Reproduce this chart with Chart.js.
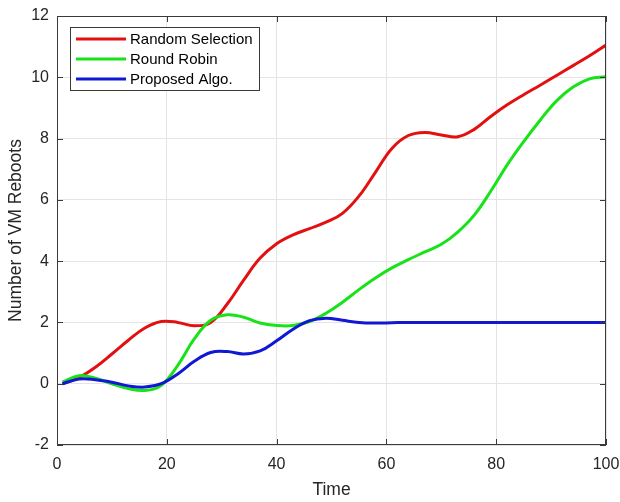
<!DOCTYPE html>
<html lang="en">
<head>
<meta charset="UTF-8">
<title>VM Reboots</title>
<script src="https://cdn.jsdelivr.net/npm/chart.js"></script>
<style>
  body { margin: 0; background: #fff; }
  canvas { display: block; }
</style>
</head>
<body>
<canvas id="myChart" width="620" height="502"></canvas>
<script>
// values
const timeX = [1, 4, 7, 10, 13, 16, 19, 22, 25, 28, 31, 34, 37, 40, 43, 46, 49, 52, 55, 58,
  61, 64, 67, 70, 73, 76, 79, 82, 85, 88, 91, 94, 97, 100];
const randomSel = [0, 0.2, 0.54, 0.97, 1.42, 1.82, 2.03, 2.0, 1.89, 2.0, 2.6, 3.38, 4.1, 4.57, 4.86, 5.06, 5.27, 5.56,
  6.12, 6.9, 7.68, 8.1, 8.2, 8.12, 8.06, 8.3, 8.72, 9.1, 9.43, 9.74, 10.06, 10.38, 10.7, 11.05];
const roundRobin = [0.05, 0.26, 0.18, 0.0, -0.16, -0.22, -0.05, 0.6, 1.46, 2.07, 2.25, 2.17, 1.98, 1.9, 1.9, 2.03, 2.3, 2.66,
  3.07, 3.45, 3.78, 4.05, 4.3, 4.55, 4.95, 5.5, 6.28, 7.14, 7.9, 8.6, 9.23, 9.68, 9.95, 10.02];
const proposed = [0, 0.15, 0.13, 0.05, -0.07, -0.11, 0.0, 0.32, 0.73, 1.02, 1.05, 0.97, 1.07, 1.4, 1.78, 2.06, 2.14, 2.07,
  2.0, 1.98, 1.99, 2.0, 2.0, 2.0, 2.0, 2.0, 2.0, 2.0, 2.0, 2.0, 2.0, 2.0, 2.0, 2.0];
const seriesNames = ['Random Selection', 'Round Robin', 'Proposed Algo.'];
const seriesColors = ['rgb(226,16,16)', 'rgb(24,226,24)', 'rgb(16,24,212)'];

const xTicks = [0, 20, 40, 60, 80, 100];
const yTicks = [-2, 0, 2, 4, 6, 8, 10, 12];

const FONT = "'Liberation Sans', Arial, sans-serif";
const TXT = '#262626';

function toPoints(ys) {
  return timeX.map((x, i) => ({ x: x, y: ys[i] }));
}

// frame, inward ticks and legend box drawn like a matlab axes
const matlabAxes = {
  id: 'matlabAxes',
  afterDraw(chart) {
    const { ctx, chartArea: a, scales } = chart;
    ctx.save();
    ctx.strokeStyle = '#3a3a3a';
    ctx.lineWidth = 1;
    ctx.strokeRect(Math.round(a.left) + 0.5, Math.round(a.top) + 0.5,
      Math.round(a.right - a.left) - 1, Math.round(a.bottom - a.top) - 1);
    ctx.beginPath();
    xTicks.forEach(v => {
      const px = Math.round(scales.x.getPixelForValue(v)) + 0.5;
      ctx.moveTo(px, a.bottom); ctx.lineTo(px, a.bottom - 6);
      ctx.moveTo(px, a.top); ctx.lineTo(px, a.top + 6);
    });
    yTicks.forEach(v => {
      const py = Math.round(scales.y.getPixelForValue(v)) + 0.5;
      ctx.moveTo(a.left, py); ctx.lineTo(a.left + 6, py);
      ctx.moveTo(a.right, py); ctx.lineTo(a.right - 6, py);
    });
    ctx.stroke();

    // legend
    const bx = a.left + 13, by = a.top + 11, bw = 189, bh = 63;
    ctx.fillStyle = '#fff';
    ctx.fillRect(bx, by, bw, bh);
    ctx.strokeStyle = '#3a3a3a';
    ctx.strokeRect(bx + 0.5, by + 0.5, bw, bh);
    ctx.font = '15px ' + FONT;
    ctx.textBaseline = 'middle';
    chart.data.datasets.forEach((ds, i) => {
      const ry = by + 12 + i * 20;
      ctx.strokeStyle = ds.borderColor;
      ctx.lineWidth = 3;
      ctx.beginPath();
      ctx.moveTo(bx + 6, ry); ctx.lineTo(bx + 56, ry);
      ctx.stroke();
      ctx.fillStyle = '#000';
      ctx.fillText(ds.label, bx + 60, ry + 1);
    });
    ctx.restore();
  }
};

const datasets = [randomSel, roundRobin, proposed].map((ys, i) => ({
  label: seriesNames[i],
  data: toPoints(ys),
  borderColor: seriesColors[i],
  backgroundColor: seriesColors[i],
  borderWidth: 3,
  pointRadius: 0,
  tension: 0.4,
  fill: false,
  order: 3 - i
}));

new Chart(document.getElementById('myChart'), {
  type: 'line',
  data: { datasets: datasets },
  options: {
    responsive: false,
    animation: false,
    layout: { padding: { top: 16, right: 14, left: 0, bottom: 0 } },
    plugins: {
      legend: { display: false },
      tooltip: { enabled: false }
    },
    scales: {
      x: {
        type: 'linear',
        min: 0,
        max: 100,
        afterFit: s => { s.height = 57; s.paddingLeft = 0; s.paddingRight = 0; },
        afterBuildTicks: s => { s.ticks = xTicks.map(v => ({ value: v })); },
        ticks: { color: TXT, font: { family: FONT, size: 16 }, padding: 10, maxRotation: 0 },
        grid: { color: '#e4e4e4', drawTicks: false },
        border: { display: false },
        title: { display: true, text: 'Time', color: TXT, font: { family: FONT, size: 17.5 }, padding: { top: 0, bottom: 1 } }
      },
      y: {
        min: -2,
        max: 12,
        afterFit: s => { s.width = 57; s.paddingTop = 0; s.paddingBottom = 0; },
        afterBuildTicks: s => { s.ticks = yTicks.map(v => ({ value: v })); },
        ticks: { color: TXT, font: { family: FONT, size: 16 }, padding: 8 },
        grid: { color: '#e4e4e4', drawTicks: false },
        border: { display: false },
        title: { display: true, text: 'Number of VM Reboots', color: TXT, font: { family: FONT, size: 17.5 }, padding: { top: 6, bottom: 6 } }
      }
    }
  },
  plugins: [matlabAxes]
});
</script>
</body>
</html>
